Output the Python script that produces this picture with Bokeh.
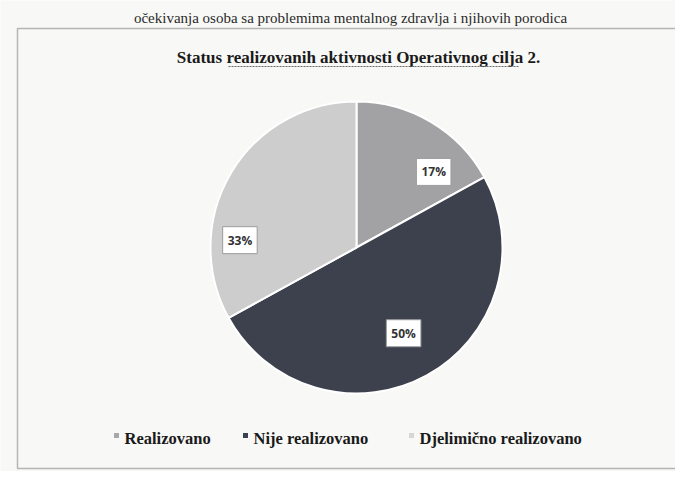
import numpy as np
from bokeh.plotting import figure
from bokeh.models import Range1d, ColumnDataSource
from bokeh.core.properties import value
from bokeh.embed import file_html
from bokeh.resources import INLINE

# ---- data ----
categories = ["Realizovano", "Nije realizovano", "Djelimično realizovano"]
shares = [17, 50, 33]
pct_labels = ["17%", "50%", "33%"]
title_text = "Status realizovanih aktivnosti Operativnog cilja 2."
header_text = "očekivanja osoba sa problemima mentalnog zdravlja i njihovih porodica"

# ---- style ----
slice_colors = ["#a2a2a4", "#3c414d", "#cdcdcd"]
legend_colors = ["#a8a8a8", "#3c414d", "#d6d6d6"]
label_r_frac = [0.74, 0.67, 0.80]
label_ang_shift = [15, 0, -27]  # degrees, clockwise
paper = "#f8f8f6"

W, H = 675, 471


def X(ix):
    return ix


def Y(iy):
    return H - iy


p = figure(width=W, height=H, x_range=Range1d(0, W), y_range=Range1d(0, H),
           output_backend="svg", toolbar_location=None, min_border=0)
p.axis.visible = False
p.grid.visible = False
p.outline_line_color = None
p.background_fill_color = paper
p.border_fill_color = paper

# header line of the document
p.text(x=[X(350)], y=[Y(17)], text=[header_text], text_align="center",
       text_baseline="alphabetic", text_font=value("Liberation Serif"),
       text_font_size="15px", text_color="#2a2a2a")

# chart area border
p.quad(left=[X(17)], right=[X(705)], top=[Y(28)], bottom=[Y(468)],
       fill_color=None, line_color="#b5b5b5", line_width=1.5)

# title
p.text(x=[X(358)], y=[Y(57)], text=[title_text], text_align="center",
       text_baseline="alphabetic", text_font=value("Liberation Serif"),
       text_font_style="bold", text_font_size="17px", text_color="#1a1a1a")
p.line(x=[X(228), X(518)], y=[Y(66), Y(66)], line_color="#6a6a6a",
       line_width=1.2, line_dash="2 1")

# pie
cx, cy, R = X(356), Y(247), 146
vals = np.array(shares, dtype=float)
frac = vals / vals.sum()
cum = np.concatenate([[0], np.cumsum(frac)])
start = np.pi / 2 - 2 * np.pi * cum[:-1]
end = np.pi / 2 - 2 * np.pi * cum[1:]
src = ColumnDataSource(dict(start=start, end=end, color=slice_colors, cat=categories))
p.wedge(x=cx, y=cy, radius=R, start_angle="start", end_angle="end",
        direction="clock", fill_color="color", line_color="white",
        line_width=2, source=src)

# percentage labels
mid = (cum[:-1] + cum[1:]) / 2 * 360 + np.array(label_ang_shift)
th = np.deg2rad(mid)
lx = cx + R * np.array(label_r_frac) * np.sin(th)
ly = cy + R * np.array(label_r_frac) * np.cos(th)
p.text(x=lx, y=ly, text=pct_labels, text_align="center", text_baseline="middle",
       text_font=value("Open Sans"), text_font_style="bold",
       text_font_size="12px", text_color="#333333",
       background_fill_color="white", border_line_color="#9c9c9c",
       border_line_width=1, padding=5)

# legend
leg_marker_x = [X(116), X(245), X(411)]
leg_y = Y(438)
p.scatter(x=leg_marker_x, y=[leg_y + 3] * 3, marker="square", size=5,
          fill_color=legend_colors, line_color=None)
p.text(x=[x + 8 for x in leg_marker_x], y=[leg_y] * 3, text=categories,
       text_align="left", text_baseline="middle",
       text_font=value("Liberation Serif"), text_font_style="bold",
       text_font_size="16.5px", text_color="#1a1a1a")

open("out.html", "w").write(file_html(p, INLINE))
